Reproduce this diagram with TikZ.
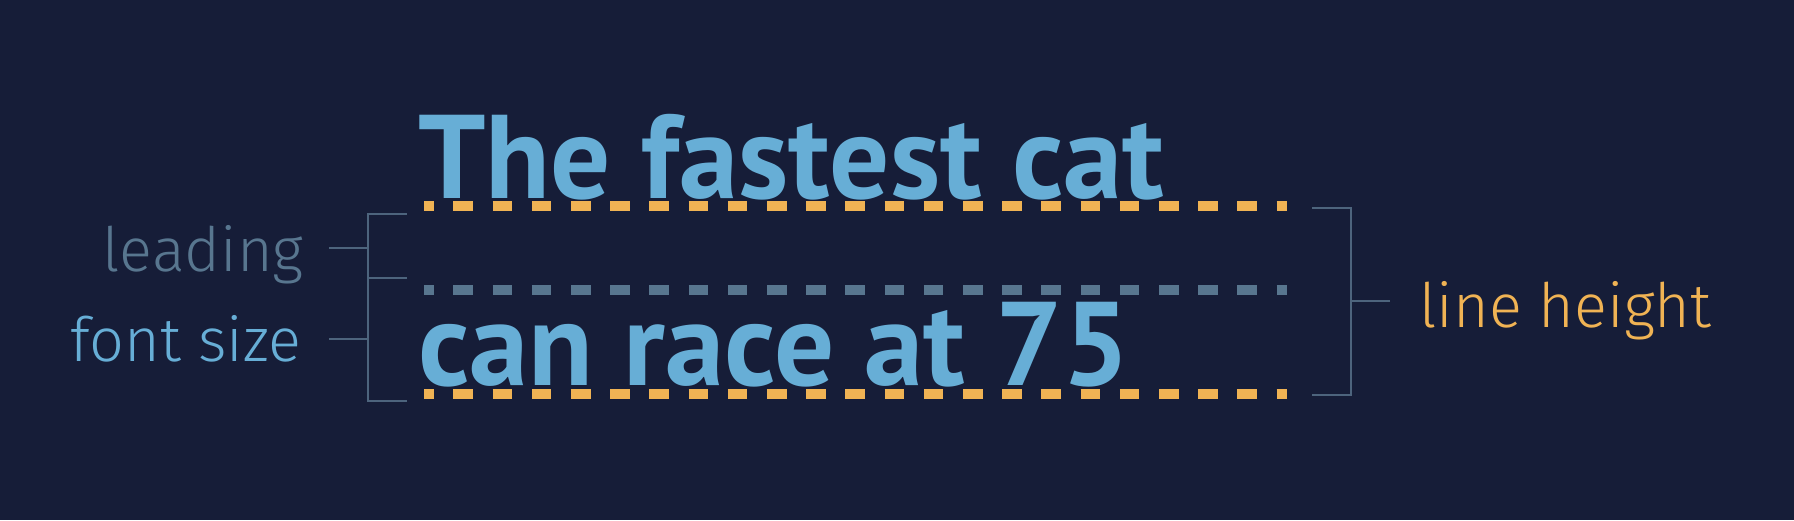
\documentclass[tikz,border=0pt]{standalone}
\usepackage{fontspec}
\usepackage{xcolor}
\usetikzlibrary{positioning, calc}
\newfontfamily\labelfont{Fira Sans Light}
\newfontfamily\specimenfont{PT Sans Bold}
\definecolor{bgnavy}{HTML}{161D38}
\definecolor{textblue}{HTML}{67AED6}
\definecolor{leadgray}{HTML}{58768F}
\definecolor{heightorange}{HTML}{F0B354}
\definecolor{bracketgray}{HTML}{4D647D}

\begin{document}
\begin{tikzpicture}[
    x=0.5pt, y=-0.5pt,
    specimen/.style={anchor=base west, inner sep=0pt, text=textblue, font=\specimenfont\fontsize{59.5}{60}\selectfont},
    sidetext/.style={inner sep=0pt, font=\labelfont\fontsize{30.6}{31}\selectfont},
    guide/.style={line width=5pt, dash pattern=on 9.8pt off 9.8pt, dash phase=4.9pt},
    bracket/.style={draw=bracketgray, line width=1pt}
]
    \fill[bgnavy] (0,0) rectangle (1794,520);
    \useasboundingbox (0,0) rectangle (1794,520);

    % Guide lines
    \coordinate (top_l) at (424,205.5);
    \coordinate (top_r) at (1287,205.5);
    \coordinate (mid_l) at (424,290);
    \coordinate (mid_r) at (1287,290);
    \coordinate (bot_l) at (424,394);
    \coordinate (bot_r) at (1287,394);
    \draw[guide, heightorange] (top_l) -- (top_r);
    \draw[guide, leadgray] (mid_l) -- (mid_r);
    \draw[guide, heightorange] (bot_l) -- (bot_r);

    % Sample text
    \node[specimen] (line_one) at (418,198) {The fastest cat};
    \node[specimen] (line_two) at (418,385) {can race at 75};

    % Labels
    \node[sidetext, anchor=base east, text=leadgray] (leading) at (304,271) {leading};
    \node[sidetext, anchor=base east, text=textblue] (fontsize) at (302,361) {font size};
    \node[sidetext, anchor=base west, text=heightorange] (lineheight) at (1419,327) {line height};

    % Brackets
    \coordinate (lb_top) at (407,214);
    \coordinate (lb_mid) at (407,278);
    \coordinate (lb_bot) at (407,401);
    \coordinate (lead_tip) at (329,248);
    \coordinate (font_tip) at (329,339);
    \draw[bracket] (lb_top) -- ++(-39,0) |- (lb_bot);
    \draw[bracket] (lb_mid) -- ++(-39,0);
    \draw[bracket] (lead_tip) -- ++(39,0);
    \draw[bracket] (font_tip) -- ++(39,0);

    \coordinate (rb_top) at (1312,207.5);
    \coordinate (rb_bot) at (1312,395);
    \coordinate (height_tip) at (1390,301);
    \draw[bracket] (rb_top) -- ++(39,0) |- (rb_bot);
    \draw[bracket] (height_tip) -- ++(-39,0);
\end{tikzpicture}
\end{document}
